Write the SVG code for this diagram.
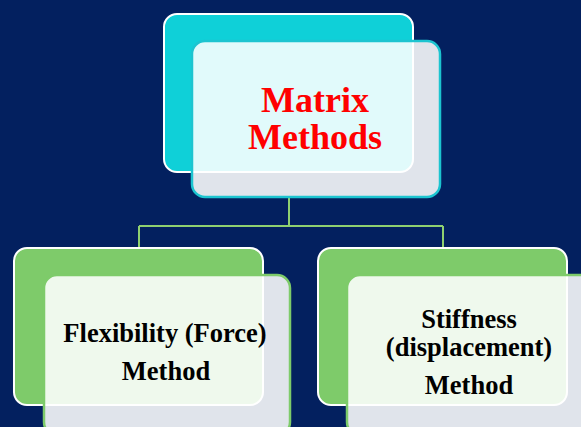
<svg xmlns="http://www.w3.org/2000/svg" width="581" height="427" viewBox="0 0 581 427">
<style>
.bgc{fill:#0fd0d8;stroke:#ffffff;stroke-width:2}
.bgg{fill:#7ecb6a;stroke:#ffffff;stroke-width:2}
.fc{fill:#ffffff;fill-opacity:0.88;stroke:#1cc4d0;stroke-width:2.5}
.fg{fill:#ffffff;fill-opacity:0.88;stroke:#7ecb6a;stroke-width:2.5}
.t{font-family:"Liberation Serif","Times New Roman",serif;font-weight:bold;text-anchor:middle}
.conn{fill:none;stroke:#8fd070;stroke-width:2}
</style>
<rect x="0" y="0" width="581" height="427" fill="#03205f"/>
<g id="connectors">
<path class="conn" d="M289 197 V226 M139 226 H443 M139 226 V249 M443 226 V249"/>
</g>
<g id="node-matrix">
<rect class="bgc" x="164" y="14" width="249" height="158" rx="13"/>
<rect class="fc" x="192" y="41" width="248" height="156" rx="13"/>
<text class="t" x="315" y="112" font-size="36" fill="#ff0000">Matrix</text>
<text class="t" x="315" y="149" font-size="36" fill="#ff0000">Methods</text>
</g>
<g id="node-flexibility">
<rect class="bgg" x="14" y="248" width="249" height="157" rx="13"/>
<rect class="fg" x="44" y="275" width="246" height="160" rx="13"/>
<text class="t" x="165" y="342" font-size="26.5" fill="#000000">Flexibility (Force)</text>
<text class="t" x="166" y="380" font-size="26.5" fill="#000000">Method</text>
</g>
<g id="node-stiffness">
<rect class="bgg" x="318" y="248" width="249" height="157" rx="13"/>
<rect class="fg" x="347" y="275" width="250" height="160" rx="13"/>
<text class="t" x="469" y="328" font-size="26.5" fill="#000000">Stiffness</text>
<text class="t" x="469" y="356" font-size="26.5" fill="#000000">(displacement)</text>
<text class="t" x="469" y="394" font-size="26.5" fill="#000000">Method</text>
</g>
</svg>
